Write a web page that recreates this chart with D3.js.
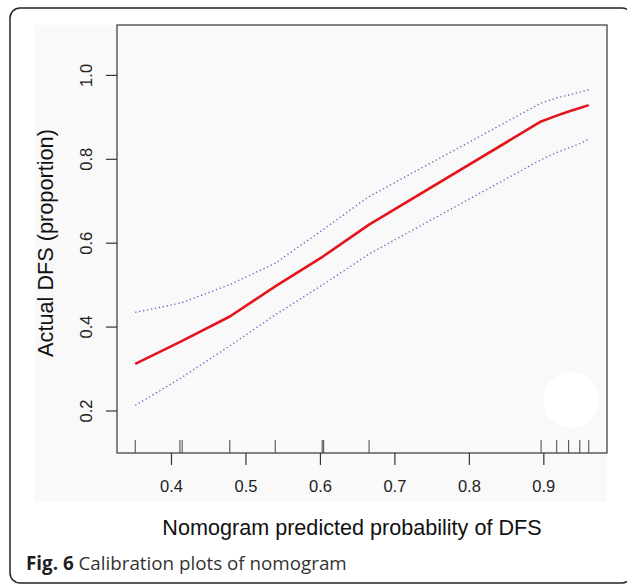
<!DOCTYPE html>
<html>
<head>
<meta charset="utf-8">
<script src="https://cdn.jsdelivr.net/npm/d3@7"></script>
<style>
  body { margin: 0; background: #fff; }
</style>
</head>
<body>
<div id="chart"></div>
<script>
// predicted probabilities where the calibration curve is evaluated
const predicted = [0.352, 0.413, 0.479, 0.540, 0.604, 0.666, 0.897, 0.918, 0.934, 0.949, 0.961];
const actual = [0.311, 0.364, 0.424, 0.496, 0.567, 0.643, 0.889, 0.903, 0.913, 0.921, 0.928];
const upperCI = [0.434, 0.456, 0.500, 0.551, 0.631, 0.710, 0.933, 0.945, 0.952, 0.959, 0.965];
const lowerCI = [0.212, 0.277, 0.354, 0.428, 0.500, 0.573, 0.798, 0.815, 0.826, 0.836, 0.847];
// rug of individual predictions along the x axis
const rugValues = [0.352, 0.412, 0.415, 0.479, 0.540, 0.603, 0.605, 0.666, 0.897, 0.918, 0.934, 0.949, 0.961];
const xTicks = [0.4, 0.5, 0.6, 0.7, 0.8, 0.9];
const yTicks = [0.2, 0.4, 0.6, 0.8, 1.0];

const W = 627, H = 586;
const box = {left: 117, right: 607, top: 25, bottom: 453};

const svg = d3.select("#chart")
  .append("svg")
    .attr("width", W)
    .attr("height", H);

// faint grey panel behind the figure
svg.append("rect")
  .attr("x", 35).attr("y", 25)
  .attr("width", box.right - 35).attr("height", 477)
  .style("fill", "#f9f9f9");

svg.append("ellipse")
  .attr("cx", 571).attr("cy", 400)
  .attr("rx", 28).attr("ry", 28)
  .style("fill", "#ffffff");

// outer frame of the figure
svg.append("rect")
  .attr("x", 10).attr("y", 8)
  .attr("width", 622).attr("height", 575)
  .attr("rx", 10).attr("ry", 10)
  .style("fill", "none")
  .style("stroke", "#222")
  .style("stroke-width", 1.5);

const x = d3.scaleLinear()
  .domain([0.3275, 0.9855])
  .range([box.left, box.right]);

const y = d3.scaleLinear()
  .domain([0.0986, 1.119])
  .range([box.bottom, box.top]);

// plot box
svg.append("rect")
  .attr("x", box.left).attr("y", box.top)
  .attr("width", box.right - box.left).attr("height", box.bottom - box.top)
  .style("fill", "none")
  .style("stroke", "#444")
  .style("stroke-width", 1.3);

const font = "'Liberation Sans', Arial, Helvetica, sans-serif";

// x axis
const xAxis = svg.append("g")
  .attr("transform", `translate(0,${box.bottom})`)
  .call(d3.axisBottom(x).tickValues(xTicks).tickSize(12).tickPadding(0).tickFormat(d3.format(".1f")));
xAxis.select(".domain").remove();
xAxis.selectAll(".tick line").attr("stroke", "#333").attr("stroke-width", 1.2);
xAxis.selectAll(".tick text")
  .attr("y", 39)
  .attr("dy", null)
  .style("font-family", font)
  .style("font-size", "16.5px")
  .style("fill", "#222");

// y axis
const yAxis = svg.append("g")
  .attr("transform", `translate(${box.left},0)`)
  .call(d3.axisLeft(y).tickValues(yTicks).tickSize(11).tickFormat(d3.format(".1f")));
yAxis.select(".domain").remove();
yAxis.selectAll(".tick line").attr("stroke", "#333").attr("stroke-width", 1.2);
yAxis.selectAll(".tick text")
  .attr("x", null)
  .attr("dy", null)
  .attr("transform", "translate(-25,0) rotate(-90)")
  .attr("text-anchor", "middle")
  .style("font-family", font)
  .style("font-size", "16.5px")
  .style("fill", "#222");

// rug
svg.append("g")
  .selectAll("line")
  .data(rugValues)
  .join("line")
    .attr("x1", d => x(d)).attr("x2", d => x(d))
    .attr("y1", box.bottom).attr("y2", box.bottom - 13)
    .attr("stroke", "#444")
    .attr("stroke-width", 1);

const line = (vals) => d3.line()
  .x((d, i) => x(predicted[i]))
  .y(d => y(d))(vals);

// confidence limits
[upperCI, lowerCI].forEach(vals => {
  svg.append("path")
    .attr("d", line(vals))
    .style("fill", "none")
    .style("stroke", "#6a6ac4")
    .style("stroke-width", 1.4)
    .style("stroke-dasharray", "1.3,2.7");
});

// calibration curve
svg.append("path")
  .attr("d", line(actual))
  .style("fill", "none")
  .style("stroke", "#e4141c")
  .style("stroke-width", 2.6)
  .style("stroke-linejoin", "round");

// axis titles
svg.append("text")
  .attr("x", 352)
  .attr("y", 535)
  .attr("text-anchor", "middle")
  .style("font-family", font)
  .style("font-size", "21.6px")
  .style("fill", "#111")
  .text("Nomogram predicted probability of DFS");

svg.append("text")
  .attr("transform", "translate(53,243) rotate(-90)")
  .attr("text-anchor", "middle")
  .style("font-family", font)
  .style("font-size", "21.7px")
  .style("fill", "#111")
  .text("Actual DFS (proportion)");

// caption
const caption = svg.append("text")
  .attr("x", 26)
  .attr("y", 570)
  .style("font-family", "'Open Sans', 'Noto Sans', sans-serif")
  .style("font-size", "18.8px")
  .style("fill", "#333");
caption.append("tspan")
  .style("font-weight", "bold")
  .style("fill", "#231f20")
  .text("Fig. 6");
caption.append("tspan")
  .text(" Calibration plots of nomogram");
</script>
</body>
</html>
